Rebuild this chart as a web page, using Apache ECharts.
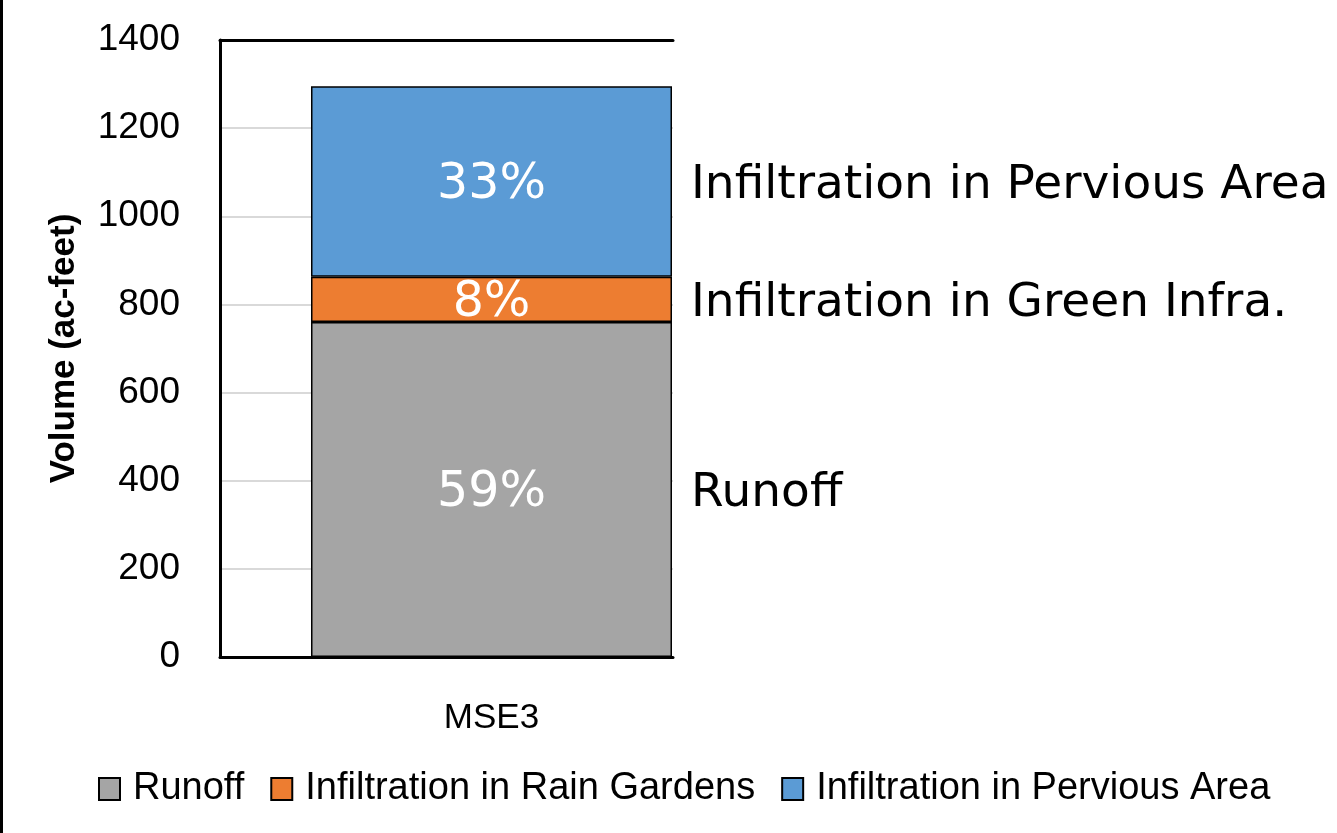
<!DOCTYPE html>
<html>
<head>
<meta charset="utf-8">
<title>Volume (ac-feet) - MSE3</title>
<script src="https://cdn.jsdelivr.net/npm/echarts@6/dist/echarts.min.js"></script>
<style>
  html, body { margin: 0; padding: 0; background: #fff; }
  #chart { width: 1337px; height: 833px; }
</style>
</head>
<body>
<div id="chart"></div>
<script>
// data
const categories = ['MSE3']
const seriesNames = ['Runoff', 'Infiltration in Rain Gardens', 'Infiltration in Pervious Area']
const sideLabels = ['Runoff', 'Infiltration in Green Infra.', 'Infiltration in Pervious Area']
const runoff = [760]
const rainGardens = [103]
const pervious = [432]
const colors = ['#a5a5a5', '#ed7d31', '#5b9bd5']
const yTicks = { min: 0, max: 1400, step: 200 }

const chart = echarts.init(document.getElementById('chart'))

const values = [runoff, rainGardens, pervious]
const total = categories.map((c, i) => values.reduce((s, v) => s + v[i], 0))

const baseFont = 'Liberation Sans'
const sideFont = 'DejaVu Sans'

const makeSeries = (idx) => ({
  name: seriesNames[idx],
  type: 'bar',
  stack: 'total',
  xAxisIndex: 0,
  yAxisIndex: 0,
  barWidth: 361,
  data: values[idx],
  itemStyle: {
    color: colors[idx],
    borderColor: '#000',
    borderWidth: 1.5
  },
  label: {
    show: true,
    position: ['0%', '50%'],
    align: 'left',
    verticalAlign: 'middle',
    offset: [0, 4],
    formatter: (p) => {
      const pct = Math.round(p.value / total[p.dataIndex] * 100)
      return '{p|' + pct + '%}{n|' + sideLabels[idx] + '}'
    },
    rich: {
      p: { width: 361, align: 'center', color: '#fff', fontSize: 49, fontFamily: sideFont },
      n: { color: '#000', fontSize: 47, fontFamily: sideFont, padding: [0, 0, 0, 19] }
    }
  }
})

chart.setOption({
  animation: false,
  backgroundColor: '#fff',
  graphic: [{
    type: 'rect',
    shape: { x: 0, y: 0, width: 3, height: 833 },
    style: { fill: '#000' }
  }],
  legend: {
    data: seriesNames,
    left: 93,
    top: 765,
    icon: 'rect',
    itemWidth: 21,
    itemHeight: 22,
    itemGap: 26,
    textStyle: { fontSize: 38, fontFamily: baseFont, color: '#000', padding: [0, 0, 0, 8] }
  },
  grid: [
    { left: 220, right: 574, top: 40, bottom: 176 },
    { left: 220, right: 664, top: 40, bottom: 176 }
  ],
  xAxis: [
    {
      type: 'category',
      gridIndex: 0,
      data: categories,
      axisLine: { show: false },
      axisTick: { show: false },
      axisLabel: { margin: 44, fontSize: 35, fontFamily: baseFont, color: '#000' }
    },
    {
      type: 'value', gridIndex: 1, min: 0, max: 1, position: 'bottom',
      axisLine: { show: true, lineStyle: { color: '#000', width: 3 } },
      axisTick: { show: false }, axisLabel: { show: false }, splitLine: { show: false }
    },
    {
      type: 'value', gridIndex: 1, min: 0, max: 1, position: 'top',
      axisLine: { show: true, lineStyle: { color: '#000', width: 3 } },
      axisTick: { show: false }, axisLabel: { show: false }, splitLine: { show: false }
    }
  ],
  yAxis: [
    {
      type: 'value',
      gridIndex: 0,
      min: yTicks.min,
      max: yTicks.max,
      interval: yTicks.step,
      name: 'Volume (ac-feet)',
      nameLocation: 'middle',
      nameGap: 138,
      nameTextStyle: { fontSize: 35, fontWeight: 'bold', fontFamily: baseFont, color: '#000' },
      axisLine: { show: true, lineStyle: { color: '#000', width: 3 } },
      axisTick: { show: false },
      splitLine: { show: false },
      axisLabel: {
        margin: 40, fontSize: 37, fontFamily: baseFont, color: '#000',
        formatter: (v) => String(v)
      }
    },
    {
      type: 'value',
      gridIndex: 1,
      min: yTicks.min,
      max: yTicks.max,
      interval: yTicks.step,
      axisLine: { show: false },
      axisTick: { show: false },
      axisLabel: { show: false },
      splitLine: { show: true, lineStyle: { color: '#d9d9d9', width: 2 } }
    }
  ],
  series: [makeSeries(0), makeSeries(1), makeSeries(2)]
})
</script>
</body>
</html>
